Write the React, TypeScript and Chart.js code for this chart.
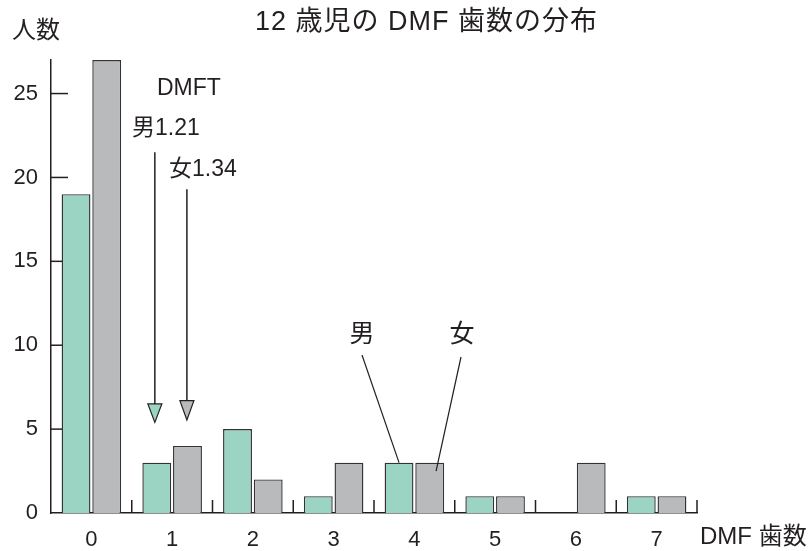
import React, { useEffect, useRef } from "react";
import { Chart, registerables } from "chart.js";

Chart.register(...registerables);

const categories = ["0", "1", "2", "3", "4", "5", "6", "7"];
const maleCounts = [19, 3, 5, 1, 3, 1, 0, 1];
const femaleCounts = [27, 4, 2, 3, 3, 1, 3, 1];
const yTickValues = [0, 5, 10, 15, 20, 25];
const yMax = 27;

// mean-value arrows (x in category-index units, y in count units)
const arrowX = [0.786, 1.183];
const arrowTop = [21.5, 19.3];
const arrowBase = [6.5, 6.7];
const arrowTip = [5.4, 5.55];

const GREEN = "#9bd4c3";
const GRAY = "#b9babc";
const INK = "#231f20";
const FONT = '"Liberation Sans", "Noto Sans CJK JP", Arial, sans-serif';

const overlayPlugin = {
  id: "overlay",
  beforeDatasetsDraw(chart: any) {
    const { ctx, chartArea, scales } = chart;
    const x = scales.x;
    const y = scales.y;
    ctx.save();
    ctx.strokeStyle = INK;
    ctx.lineWidth = 1.5;
    // inward y tick marks
    yTickValues.forEach((v) => {
      if (v === 0) return;
      const py = y.getPixelForValue(v);
      ctx.beginPath();
      ctx.moveTo(chartArea.left, py);
      ctx.lineTo(chartArea.left + 17, py);
      ctx.stroke();
    });
    // inward x boundary tick marks
    for (let i = 0; i < categories.length; i++) {
      const px = x.getPixelForValue(i + 0.5);
      ctx.beginPath();
      ctx.moveTo(px, chartArea.bottom);
      ctx.lineTo(px, chartArea.bottom - 13);
      ctx.stroke();
    }
    ctx.restore();
  },
  afterDatasetsDraw(chart: any) {
    const { ctx, scales } = chart;
    const x = scales.x;
    const y = scales.y;
    ctx.save();
    // arrows
    const fills = [GREEN, GRAY];
    arrowX.forEach((ax, i) => {
      const px = x.getPixelForValue(ax);
      const top = y.getPixelForValue(arrowTop[i]);
      const base = y.getPixelForValue(arrowBase[i]);
      const tip = y.getPixelForValue(arrowTip[i]);
      ctx.strokeStyle = INK;
      ctx.lineWidth = 1.5;
      ctx.beginPath();
      ctx.moveTo(px, top);
      ctx.lineTo(px, base);
      ctx.stroke();
      ctx.beginPath();
      ctx.moveTo(px - 7, base);
      ctx.lineTo(px + 7, base);
      ctx.lineTo(px, tip);
      ctx.closePath();
      ctx.fillStyle = fills[i];
      ctx.fill();
      ctx.lineWidth = 1.2;
      ctx.stroke();
    });
    // leader lines
    const m = chart.getDatasetMeta(0).data[4];
    const f = chart.getDatasetMeta(1).data[4];
    ctx.lineWidth = 1.2;
    ctx.strokeStyle = INK;
    ctx.beginPath();
    ctx.moveTo(362, 355);
    ctx.lineTo(m.x, m.y);
    ctx.stroke();
    ctx.beginPath();
    ctx.moveTo(461, 357);
    ctx.lineTo(f.x + f.width * 0.22, y.getPixelForValue(2.5));
    ctx.stroke();

    // texts
    ctx.fillStyle = INK;
    ctx.textBaseline = "middle";
    ctx.textAlign = "left";
    ctx.font = `27px ${FONT}`;
    (ctx as any).letterSpacing = "1px";
    ctx.fillText("12 歳児の DMF 歯数の分布", 255, 23);
    (ctx as any).letterSpacing = "0px";
    ctx.font = `24px ${FONT}`;
    ctx.fillText("人数", 12, 31);
    ctx.fillText("DMF 歯数", 700, 537);
    ctx.font = `23px ${FONT}`;
    ctx.fillText("DMFT", 157, 89);
    ctx.fillText("男1.21", 132, 129);
    ctx.fillText("女1.34", 169, 170);
    ctx.textAlign = "center";
    ctx.font = `25px ${FONT}`;
    ctx.fillText("男", 362, 335);
    ctx.fillText("女", 462, 335);
    ctx.restore();
  },
};

export default function App() {
  const ref = useRef<HTMLCanvasElement | null>(null);
  useEffect(() => {
    document.body.style.margin = "0";
    if (!ref.current) return;
    const chart = new Chart(ref.current, {
      type: "bar",
      data: {
        labels: categories,
        datasets: [
          {
            label: "男",
            data: maleCounts,
            backgroundColor: GREEN,
            borderColor: "#333333",
            borderWidth: 1.4,
            categoryPercentage: 0.76,
            barPercentage: 0.94,
          },
          {
            label: "女",
            data: femaleCounts,
            backgroundColor: GRAY,
            borderColor: "#333333",
            borderWidth: 1.4,
            categoryPercentage: 0.76,
            barPercentage: 0.94,
          },
        ],
      },
      options: {
        animation: false,
        responsive: false,
        devicePixelRatio: 1,
        layout: { padding: { top: 60, right: 111, left: 0, bottom: 0 } },
        plugins: {
          legend: { display: false },
          title: { display: false },
          tooltip: { enabled: false },
        },
        scales: {
          x: {
            grid: { display: false, drawTicks: false },
            border: { display: true, color: INK, width: 1.5 },
            ticks: {
              color: INK,
              font: { family: FONT, size: 22 },
              padding: 14,
            },
            afterFit: (s: any) => {
              s.height = 38;
            },
          },
          y: {
            min: 0,
            max: yMax,
            grid: { display: false, drawTicks: false },
            border: { display: true, color: INK, width: 1.5 },
            afterBuildTicks: (s: any) => {
              s.ticks = yTickValues.map((v) => ({ value: v }));
            },
            ticks: {
              color: INK,
              font: { family: FONT, size: 22 },
              padding: 13,
            },
            afterFit: (s: any) => {
              s.width = 51;
            },
          },
        },
      },
      plugins: [overlayPlugin],
    });
    return () => chart.destroy();
  }, []);
  return (
    <div style={{ width: 808, height: 551 }}>
      <canvas ref={ref} width={808} height={551} style={{ display: "block" }} />
    </div>
  );
}
